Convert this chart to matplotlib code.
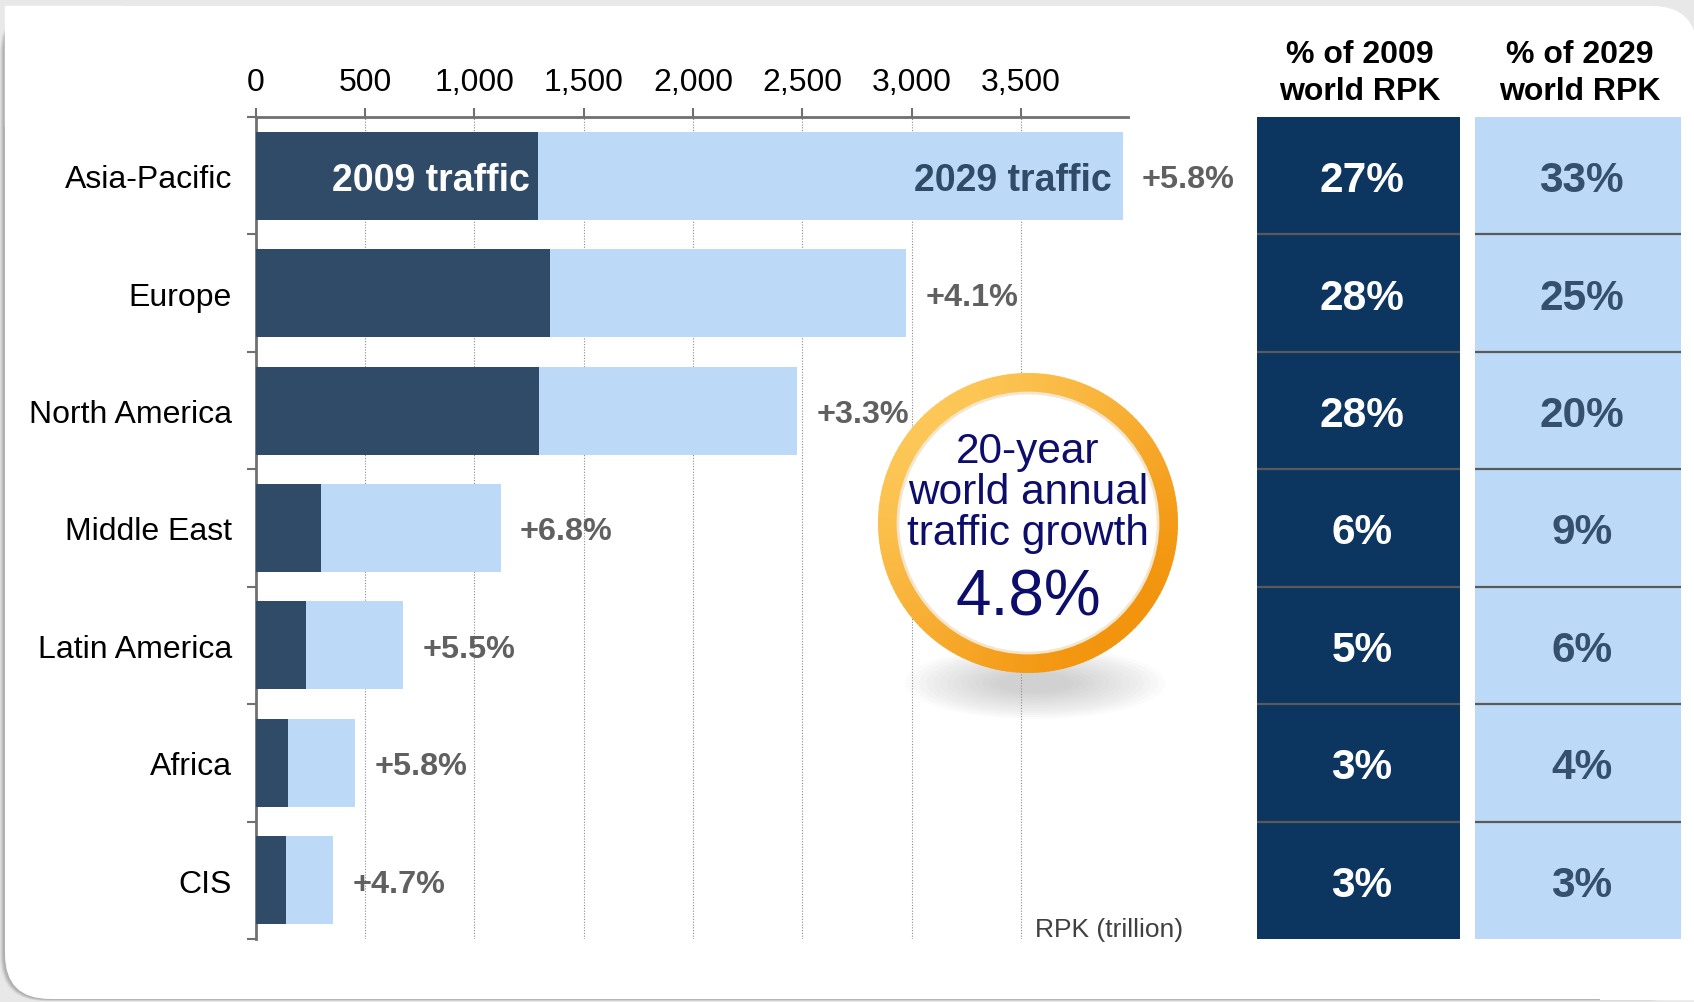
import matplotlib
matplotlib.use("Agg")
import matplotlib.pyplot as plt
import numpy as np
from matplotlib.patches import FancyBboxPatch, Rectangle, Wedge, Circle, Ellipse
from matplotlib.ticker import FuncFormatter

plt.rcParams["font.family"] = ["Liberation Sans", "DejaVu Sans"]

# data
regions = ["Asia-Pacific", "Europe", "North America", "Middle East",
           "Latin America", "Africa", "CIS"]
rpk_2009 = [1290, 1345, 1295, 300, 230, 150, 140]
rpk_2029 = [3965, 2975, 2475, 1120, 675, 455, 355]
growth = ["+5.8%", "+4.1%", "+3.3%", "+6.8%", "+5.5%", "+5.8%", "+4.7%"]
share_2009 = [27, 28, 28, 6, 5, 3, 3]
share_2029 = [33, 25, 20, 9, 6, 4, 3]
x_ticks = [0, 500, 1000, 1500, 2000, 2500, 3000, 3500]
world_growth = "4.8%"

W, H = 1694, 1003
DARK = "#2f4b68"
LIGHT = "#bcdaf7"
NAVY = "#0c3560"
AXC = "#707070"

fig = plt.figure(figsize=(W / 100, H / 100), dpi=100)


def px_axes(x0, y0, x1, y1, z):
    a = fig.add_axes([x0 / W, 1 - y1 / H, (x1 - x0) / W, (y1 - y0) / H])
    a.set_zorder(z)
    return a


# ---- background panel ----
bg = px_axes(0, 0, W, H, 0)
bg.set_xlim(0, W)
bg.set_ylim(H, 0)
bg.axis("off")
bg.add_patch(Rectangle((0, 0), W, H, color="#e8e8e8"))
for k, a in enumerate([0.10, 0.14, 0.18, 0.22]):
    off = 5 - k
    bg.add_patch(FancyBboxPatch((5 - off, 7 + off * 0.4), 1692, 993,
                                boxstyle="round,pad=0,rounding_size=45",
                                facecolor="#808080", edgecolor="none", alpha=a))
bg.add_patch(FancyBboxPatch((5, 7), 1692, 993,
                            boxstyle="round,pad=0,rounding_size=45",
                            facecolor="white", edgecolor="none"))
bg.add_patch(Rectangle((5, 7), 120, 120, color="white"))
bg.add_patch(Rectangle((1600, 900), 100, 100, color="white"))

# ---- bar chart ----
ax = px_axes(255.7, 118, 1128, 940, 2)
ax.set_facecolor("none")
ypos = np.arange(len(regions))
ax.barh(ypos, rpk_2029, height=0.75, color=LIGHT, zorder=2)
ax.barh(ypos, rpk_2009, height=0.75, color=DARK, zorder=3)
ax.set_xlim(0, 3990)
ax.set_ylim(len(regions) - 0.5, -0.5)

for s in ["right", "bottom"]:
    ax.spines[s].set_visible(False)
for s in ["top", "left"]:
    ax.spines[s].set_color(AXC)
    ax.spines[s].set_linewidth(2)

ax.xaxis.tick_top()
ax.set_xticks(x_ticks)
ax.xaxis.set_major_formatter(FuncFormatter(lambda v, p: f"{int(v):,}"))
ax.tick_params(axis="x", direction="out", length=6.5, width=1.5, color=AXC,
               labelsize=23, pad=8, labelcolor="black")
ax.set_yticks(np.arange(-0.5, len(regions), 1.0))
ax.set_yticklabels([])
ax.set_yticks(ypos, minor=True)
ax.set_yticklabels(regions, minor=True)
ax.tick_params(axis="y", which="major", direction="out", length=6.5, width=1.5, color=AXC)
ax.tick_params(axis="y", which="minor", length=0, pad=17, labelsize=23)
ax.grid(True, axis="x", linestyle=(0, (1, 1.5)), color="#8a8a8a", linewidth=0.8)
ax.set_axisbelow(True)

ax.annotate("2009 traffic", (rpk_2009[0], 0), xytext=(-6, 0), textcoords="offset points",
            ha="right", va="center_baseline", color="white", fontsize=27,
            fontweight="bold", zorder=5)
ax.annotate("2029 traffic", (rpk_2029[0], 0), xytext=(-8, 0), textcoords="offset points",
            ha="right", va="center_baseline", color=DARK, fontsize=27,
            fontweight="bold", zorder=5)
for i, g in enumerate(growth):
    ax.annotate(g, (rpk_2029[i], i), xytext=(14, 0), textcoords="offset points",
                ha="left", va="center_baseline", color="#606060", fontsize=23.3,
                fontweight="bold")

ax.annotate("RPK (trillion)", (3500, len(regions) - 0.5), xytext=(10, 7),
            textcoords="offset points", ha="left", va="center", fontsize=19,
            color="#404040")

# ---- share table ----
tb = px_axes(1256.5, 118, 1681, 940, 2)
tb.set_facecolor("none")
tb.axis("off")
tb.set_xlim(0, 2)
tb.set_ylim(len(regions) - 0.5, -0.5)
col_left = [0, 1.029]
col_w = [0.958, 0.971]
col_colors = [NAVY, LIGHT]
txt_colors = ["white", "#34506e"]
headers = ["% of 2009\nworld RPK", "% of 2029\nworld RPK"]
for c, vals in enumerate([share_2009, share_2029]):
    tb.barh(ypos, col_w[c], left=col_left[c], height=1.0, color=col_colors[c])
    tb.hlines(np.arange(0.5, len(regions) - 1, 1.0), col_left[c], col_left[c] + col_w[c],
              color="#5a5a5a", linewidth=1.6)
    cx = col_left[c] + col_w[c] / 2 + 0.018
    for i, v in enumerate(vals):
        tb.text(cx, i, f"{v}%", ha="center", va="center_baseline", fontsize=30.5,
                fontweight="bold", color=txt_colors[c])
    tb.annotate(headers[c], (cx - 0.01, -0.5), xytext=(0, 32), textcoords="offset points",
                ha="center", va="center", fontsize=23, fontweight="bold",
                linespacing=1.3, annotation_clip=False)

# ---- growth badge ----
ov = px_axes(0, 0, W, H, 5)
ov.set_facecolor("none")
ov.set_xlim(0, W)
ov.set_ylim(H, 0)
ov.axis("off")
cx, cy, r_out, ring = 1028, 524, 150, 21
for k in range(14):
    ov.add_patch(Ellipse((1035, 684), 260 - 14 * k, 72 - 4 * k,
                         color="#9a9a9a", alpha=0.035, lw=0))
light = np.array([0.99, 0.78, 0.34])
dark = np.array([0.95, 0.58, 0.05])
for th in range(0, 360, 2):
    t = (1 + np.cos(np.radians(th + 1 - 225))) / 2
    col = dark + (light - dark) * t
    ov.add_patch(Wedge((cx, cy), r_out, th, th + 2.4, width=ring, color=col, lw=0))
ov.add_patch(Circle((cx, cy), r_out - ring + 0.5, color="white", lw=0))
ov.add_patch(Circle((cx, cy), r_out - ring + 1, fill=False, edgecolor="#f3e6cc", lw=2))

badge_lines = ["20-year", "world annual", "traffic growth"]
for s, yy in zip(badge_lines, [448, 489, 530]):
    ov.text(cx, yy, s, ha="center", va="center_baseline", fontsize=30.5, color="#0d0d6b")
ov.text(cx, 592, world_growth, ha="center", va="center_baseline", fontsize=46,
        color="#0d0d6b")

fig.savefig("out.png", dpi=100)
